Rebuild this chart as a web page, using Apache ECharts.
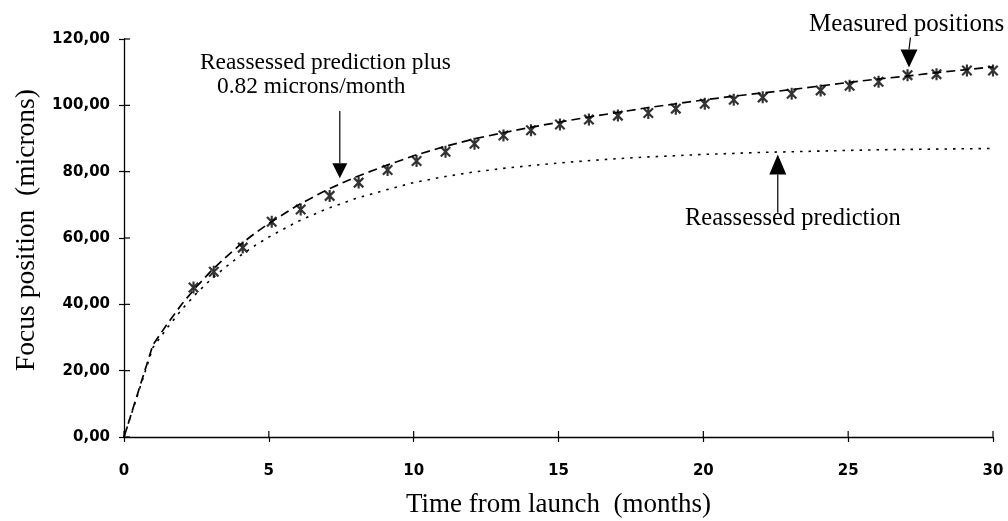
<!DOCTYPE html>
<html>
<head>
<meta charset="utf-8">
<script src="https://cdn.jsdelivr.net/npm/echarts@6/dist/echarts.min.js"></script>
<style>
  html, body { margin: 0; padding: 0; background: #fff; }
  #chart { width: 1008px; height: 521px; }
</style>
</head>
<body>
<div id="chart"></div>
<script>
// Sample times (months after launch) for the two model curves
const curveMonths = [0, 0.5, 1, 1.5, 2, 2.5, 3, 3.5, 4, 4.5, 5, 6, 7, 8, 9, 10, 11, 12, 13, 14, 15,
  16, 17, 18, 19, 20, 21, 22, 23, 24, 25, 26, 27, 28, 29, 30];

// Reassessed prediction (microns)
const reassessedPrediction = [0, 13.5, 27, 33, 38.5, 43.3, 47.5, 51.2, 54.6, 57.6, 60.3, 65.0, 68.8,
  71.9, 74.4, 76.7, 78.4, 79.8, 80.9, 81.8, 82.6, 83.3, 83.9, 84.4, 84.8, 85.2, 85.5, 85.8, 86.0,
  86.2, 86.4, 86.6, 86.7, 86.8, 86.9, 87.0];

// Reassessed prediction plus 0.82 microns/month (microns)
const predictionPlusDrift = [0, 13.9, 27.8, 34.2, 40.1, 45.3, 50.0, 54.1, 57.9, 61.3, 64.4, 69.9,
  74.5, 78.4, 81.7, 84.8, 87.4, 89.7, 91.6, 93.3, 94.9, 96.4, 97.8, 99.2, 100.4, 101.6, 102.7,
  103.7, 104.7, 105.8, 106.9, 107.9, 108.8, 109.8, 110.7, 111.6];

// Measured focus positions
const measuredMonths = [2.4, 3.1, 4.1, 5.1, 6.1, 7.1, 8.1, 9.1, 10.1, 11.1, 12.1, 13.1, 14.05,
  15.05, 16.05, 17.05, 18.1, 19.05, 20.05, 21.05, 22.05, 23.05, 24.05, 25.05, 26.05, 27.05, 28.05,
  29.1, 30];
const measuredPositions = [45.1, 49.8, 57.1, 64.9, 68.6, 72.7, 76.7, 80.5, 83.2, 86.0, 88.4, 90.9,
  92.5, 94.2, 95.7, 96.9, 97.7, 99.0, 100.5, 101.7, 102.4, 103.5, 104.5, 105.9, 107.1, 109.1,
  109.4, 110.5, 110.5];

// Axis ranges and tick values
const xRange = { min: 0, max: 30, interval: 5 };
const yRange = { min: 0, max: 120, interval: 20 };
const xTicks = [0, 5, 10, 15, 20, 25, 30];
const yTicks = [0, 20, 40, 60, 80, 100, 120];

const zip = (xs, ys) => xs.map((x, i) => [x, ys[i]]);

// Six-armed asterisk used for the measured points
const asteriskPath = 'path://M4.1,0L5.9,0L5.9,10L4.1,10Z' +
  'M0.4,1.7L1.7,0.4L9.6,8.3L8.3,9.6Z' +
  'M8.3,0.4L9.6,1.7L1.7,9.6L0.4,8.3Z';

const ink = '#000';
const serif = '"Liberation Serif", "Times New Roman", serif';
const tickFont = { fontFamily: '"DejaVu Sans", sans-serif', fontWeight: 'bold', fontSize: 15, color: ink };

const chart = echarts.init(document.getElementById('chart'), null, { renderer: 'canvas' });

const option = {
  animation: false,
  backgroundColor: '#fff',
  grid: { left: 124, right: 15, top: 39, bottom: 84, containLabel: false, outerBoundsMode: 'none' },
  xAxis: {
    type: 'value', ...xRange, position: 'bottom',
    name: 'Time from launch  (months)', nameLocation: 'middle', nameGap: 54,
    nameTextStyle: { fontFamily: serif, fontSize: 27, color: ink },
    axisLine: { show: true, onZero: false, lineStyle: { color: ink, width: 1.3 } },
    axisTick: { show: true, length: 5, lineStyle: { color: ink, width: 1.2 } },
    axisLabel: { ...tickFont, margin: 27 },
    splitLine: { show: false }
  },
  yAxis: {
    type: 'value', ...yRange, position: 'left',
    name: 'Focus position  (microns)', nameLocation: 'middle', nameGap: 82, nameRotate: 90,
    nameTextStyle: { fontFamily: serif, fontSize: 27.5, color: ink, padding: [0, 0, 0, 16] },
    axisLine: { show: true, onZero: false, lineStyle: { color: ink, width: 1.3 } },
    axisTick: { show: true, length: 5, lineStyle: { color: ink, width: 1.2 } },
    axisLabel: { ...tickFont, margin: 14, formatter: v => v.toFixed(2).replace('.', ',') },
    splitLine: { show: false }
  },
  series: [
    {
      name: 'Reassessed prediction', type: 'line',
      data: zip(curveMonths, reassessedPrediction),
      symbol: 'none', silent: true,
      lineStyle: { color: ink, width: 1.6, type: [2.5, 6] }
    },
    {
      name: 'Reassessed prediction plus 0.82 microns/month', type: 'line',
      data: zip(curveMonths, predictionPlusDrift),
      symbol: 'none', silent: true,
      lineStyle: { color: ink, width: 1.7, type: [9, 5] }
    },
    {
      name: 'Measured positions', type: 'scatter',
      data: zip(measuredMonths, measuredPositions),
      symbol: asteriskPath, symbolSize: [11, 12],
      itemStyle: { color: ink }, silent: true
    }
  ]
};

chart.setOption(option);

// Callout arrows, anchored in data space (months, microns)
const arrows = [
  { tail: [7.45, 98.3], tip: [7.45, 78.0], head: [15, 15] },
  { tail: [27.15, 120.4], tip: [27.1, 111.4], head: [17, 18] },
  { tail: [22.57, 67.6], tip: [22.57, 85.2], head: [17, 20] }
];

// Callout texts (pixel anchors, left aligned, vertically centred on the caps)
const callouts = [
  { text: 'Reassessed prediction plus', x: 200, y: 63, size: 23.4 },
  { text: '0.82 microns/month', x: 217, y: 87, size: 23.4 },
  { text: 'Measured positions', x: 809, y: 24, size: 25 },
  { text: 'Reassessed prediction', x: 685, y: 219, size: 24.5 }
];

const toPx = p => chart.convertToPixel({ xAxisIndex: 0, yAxisIndex: 0 }, p);
const graphics = [];

// inward half of each tick, so the ticks cross the axis lines
xTicks.forEach(v => {
  const [x, y] = toPx([v, yRange.min]);
  graphics.push({ type: 'line', silent: true, shape: { x1: x, y1: y, x2: x, y2: y - 6 },
    style: { stroke: ink, lineWidth: 1.2 } });
});
yTicks.forEach(v => {
  const [x, y] = toPx([xRange.min, v]);
  graphics.push({ type: 'line', silent: true, shape: { x1: x, y1: y, x2: x + 6, y2: y },
    style: { stroke: ink, lineWidth: 1.2 } });
});

arrows.forEach(a => {
  const [tx, ty] = toPx(a.tip);
  const [sx, sy] = toPx(a.tail);
  const dir = sy < ty ? -1 : 1;           // head base sits on the tail side
  const baseY = ty + dir * a.head[1];
  graphics.push({
    type: 'line', silent: true,
    shape: { x1: sx, y1: sy, x2: tx, y2: baseY },
    style: { stroke: ink, lineWidth: 1.2 }
  });
  graphics.push({
    type: 'polygon', silent: true,
    shape: { points: [[tx - a.head[0] / 2, baseY], [tx + a.head[0] / 2, baseY], [tx, ty]] },
    style: { fill: ink }
  });
});
callouts.forEach(c => {
  graphics.push({
    type: 'text', silent: true, x: c.x, y: c.y,
    style: { text: c.text, fill: ink, font: c.size + 'px ' + serif, align: 'left', verticalAlign: 'middle' }
  });
});
chart.setOption({ graphic: graphics });
</script>
</body>
</html>
